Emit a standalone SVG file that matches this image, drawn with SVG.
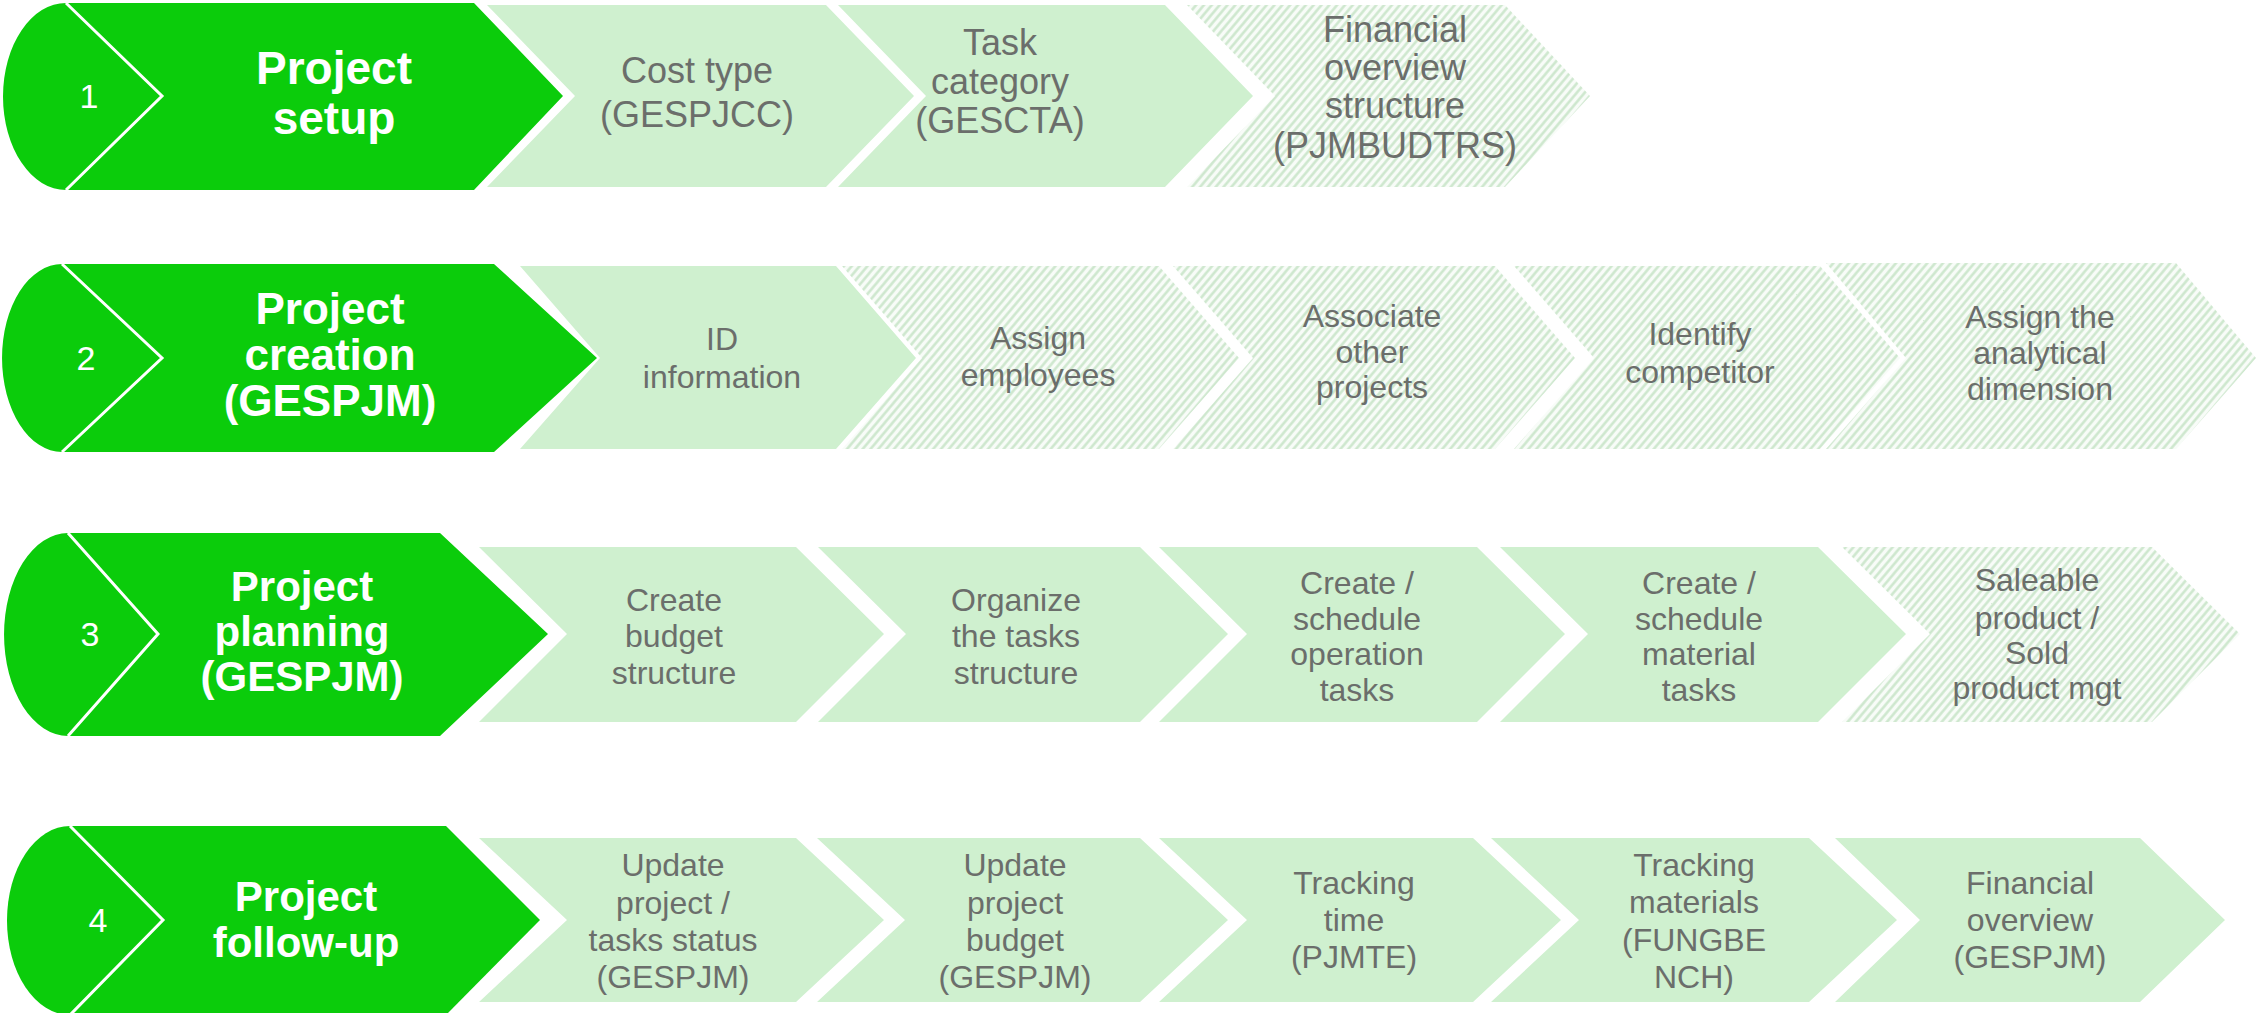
<svg xmlns="http://www.w3.org/2000/svg" width="2263" height="1013" viewBox="0 0 2263 1013">
<defs>
<pattern id="hatch" width="6" height="10" patternUnits="userSpaceOnUse" patternTransform="rotate(40)">
<rect width="6" height="10" fill="#f8fcf8"/>
<line x1="1.5" y1="0" x2="1.5" y2="10" stroke="#cbe6cb" stroke-width="2.4"/>
</pattern>
</defs>
<style>
.g{fill:#0bcc0b}
.chev{fill:none;stroke:#ffffff;stroke-width:3}
.l{fill:#cff0cf}
.h{fill:url(#hatch)}
.num{font-family:"Liberation Sans",Arial,sans-serif;font-size:34px;fill:#ffffff;text-anchor:middle}
.gt{font-family:"Liberation Sans",Arial,sans-serif;font-weight:bold;fill:#ffffff;text-anchor:middle}
.t1{font-family:"Liberation Sans",Arial,sans-serif;font-size:36px;fill:#6b6e6b;text-anchor:middle}
.t{font-family:"Liberation Sans",Arial,sans-serif;font-size:32px;fill:#6b6e6b;text-anchor:middle}
</style>
<rect width="2263" height="1013" fill="#ffffff"/>

<!-- Row 1 -->
<g id="step1">
<path class="g" d="M66,3 L474,3 L563,96 L474,190 L66,190 A63,93.5 0 0 1 66,3 Z"/>
<polyline class="chev" points="66,3 162,96 66,190"/>
<text class="num" x="89" y="108">1</text>
<text class="gt" x="334" y="84" font-size="46">Project</text>
<text class="gt" x="334" y="134" font-size="46">setup</text>
</g>
<g id="cost-type">
<polygon class="l" points="487,5 826,5 914,96 826,187 487,187 575,96"/>
<text class="t1" x="697" y="83">Cost type</text>
<text class="t1" x="697" y="127">(GESPJCC)</text>
</g>
<g id="task-category">
<polygon class="l" points="838,5 1165,5 1253,96 1165,187 838,187 926,96"/>
<text class="t1" x="1000" y="55">Task</text>
<text class="t1" x="1000" y="94">category</text>
<text class="t1" x="1000" y="133">(GESCTA)</text>
</g>
<g id="financial-structure">
<polygon class="h" points="1187,5 1505,5 1590,96 1505,187 1187,187 1275,96"/>
<text class="t1" x="1395" y="42">Financial</text>
<text class="t1" x="1395" y="80">overview</text>
<text class="t1" x="1395" y="118">structure</text>
<text class="t1" x="1395" y="158">(PJMBUDTRS)</text>
</g>

<!-- Row 2 -->
<g id="step2">
<path class="g" d="M62,264 L494,264 L597,358 L494,452 L62,452 A60,94 0 0 1 62,264 Z"/>
<polyline class="chev" points="62,264 162,358 62,452"/>
<text class="num" x="86" y="370">2</text>
<text class="gt" x="330" y="324" font-size="44">Project</text>
<text class="gt" x="330" y="370" font-size="44">creation</text>
<text class="gt" x="330" y="416" font-size="44">(GESPJM)</text>
</g>
<g id="id-information">
<polygon class="l" points="520,266 836,266 916,358 836,449 520,449 600,358"/>
<text class="t" x="722" y="350">ID</text>
<text class="t" x="722" y="388">information</text>
</g>
<g id="assign-employees">
<polygon class="h" points="842,266 1159,266 1239,358 1159,449 842,449 922,358"/>
<text class="t" x="1038" y="349">Assign</text>
<text class="t" x="1038" y="386">employees</text>
</g>
<g id="associate-projects">
<polygon class="h" points="1173,266 1495,266 1575,358 1495,449 1173,449 1253,358"/>
<text class="t" x="1372" y="327">Associate</text>
<text class="t" x="1372" y="363">other</text>
<text class="t" x="1372" y="398">projects</text>
</g>
<g id="identify-competitor">
<polygon class="h" points="1514,266 1820,266 1900,358 1820,449 1514,449 1594,358"/>
<text class="t" x="1700" y="345">Identify</text>
<text class="t" x="1700" y="383">competitor</text>
</g>
<g id="analytical-dimension">
<polygon class="h" points="1826,263 2176,263 2256,358 2176,449 1826,449 1906,358"/>
<text class="t" x="2040" y="328">Assign the</text>
<text class="t" x="2040" y="364">analytical</text>
<text class="t" x="2040" y="400">dimension</text>
</g>

<!-- Row 3 -->
<g id="step3">
<path class="g" d="M68,533 L440,533 L548,634 L440,736 L68,736 A64,101.5 0 0 1 68,533 Z"/>
<polyline class="chev" points="68,533 158,634 68,736"/>
<text class="num" x="90" y="646">3</text>
<text class="gt" x="302" y="601" font-size="42">Project</text>
<text class="gt" x="302" y="646" font-size="42">planning</text>
<text class="gt" x="302" y="691" font-size="42">(GESPJM)</text>
</g>
<g id="budget-structure">
<polygon class="l" points="479,547 796,547 884,634 796,722 479,722 567,634"/>
<text class="t" x="674" y="611">Create</text>
<text class="t" x="674" y="647">budget</text>
<text class="t" x="674" y="684">structure</text>
</g>
<g id="tasks-structure">
<polygon class="l" points="818,547 1140,547 1228,634 1140,722 818,722 906,634"/>
<text class="t" x="1016" y="611">Organize</text>
<text class="t" x="1016" y="647">the tasks</text>
<text class="t" x="1016" y="684">structure</text>
</g>
<g id="operation-tasks">
<polygon class="l" points="1159,547 1477,547 1565,634 1477,722 1159,722 1247,634"/>
<text class="t" x="1357" y="594">Create /</text>
<text class="t" x="1357" y="630">schedule</text>
<text class="t" x="1357" y="665">operation</text>
<text class="t" x="1357" y="701">tasks</text>
</g>
<g id="material-tasks">
<polygon class="l" points="1500,547 1818,547 1906,634 1818,722 1500,722 1588,634"/>
<text class="t" x="1699" y="594">Create /</text>
<text class="t" x="1699" y="630">schedule</text>
<text class="t" x="1699" y="665">material</text>
<text class="t" x="1699" y="701">tasks</text>
</g>
<g id="product-mgt">
<polygon class="h" points="1842,547 2152,547 2240,634 2152,722 1842,722 1930,634"/>
<text class="t" x="2037" y="591">Saleable</text>
<text class="t" x="2037" y="629">product /</text>
<text class="t" x="2037" y="664">Sold</text>
<text class="t" x="2037" y="699">product mgt</text>
</g>

<!-- Row 4 -->
<g id="step4">
<path class="g" d="M70,826 L446,826 L540,920 L446,1015 L70,1015 A63,94.5 0 0 1 70,826 Z"/>
<polyline class="chev" points="70,826 163,920 70,1015"/>
<text class="num" x="98" y="932">4</text>
<text class="gt" x="306" y="911" font-size="42">Project</text>
<text class="gt" x="306" y="957" font-size="42">follow-up</text>
</g>
<g id="update-status">
<polygon class="l" points="479,838 796,838 884,920 796,1002 479,1002 567,920"/>
<text class="t" x="673" y="876">Update</text>
<text class="t" x="673" y="914">project /</text>
<text class="t" x="673" y="951">tasks status</text>
<text class="t" x="673" y="988">(GESPJM)</text>
</g>
<g id="update-budget">
<polygon class="l" points="817,838 1140,838 1228,920 1140,1002 817,1002 905,920"/>
<text class="t" x="1015" y="876">Update</text>
<text class="t" x="1015" y="914">project</text>
<text class="t" x="1015" y="951">budget</text>
<text class="t" x="1015" y="988">(GESPJM)</text>
</g>
<g id="tracking-time">
<polygon class="l" points="1159,838 1473,838 1561,920 1473,1002 1159,1002 1247,920"/>
<text class="t" x="1354" y="894">Tracking</text>
<text class="t" x="1354" y="931">time</text>
<text class="t" x="1354" y="968">(PJMTE)</text>
</g>
<g id="tracking-materials">
<polygon class="l" points="1491,838 1809,838 1897,920 1809,1002 1491,1002 1579,920"/>
<text class="t" x="1694" y="876">Tracking</text>
<text class="t" x="1694" y="913">materials</text>
<text class="t" x="1694" y="951">(FUNGBE</text>
<text class="t" x="1694" y="988">NCH)</text>
</g>
<g id="financial-overview">
<polygon class="l" points="1835,838 2140,838 2225,920 2140,1002 1835,1002 1920,920"/>
<text class="t" x="2030" y="894">Financial</text>
<text class="t" x="2030" y="931">overview</text>
<text class="t" x="2030" y="968">(GESPJM)</text>
</g>

<g id="connectors"/>
</svg>
